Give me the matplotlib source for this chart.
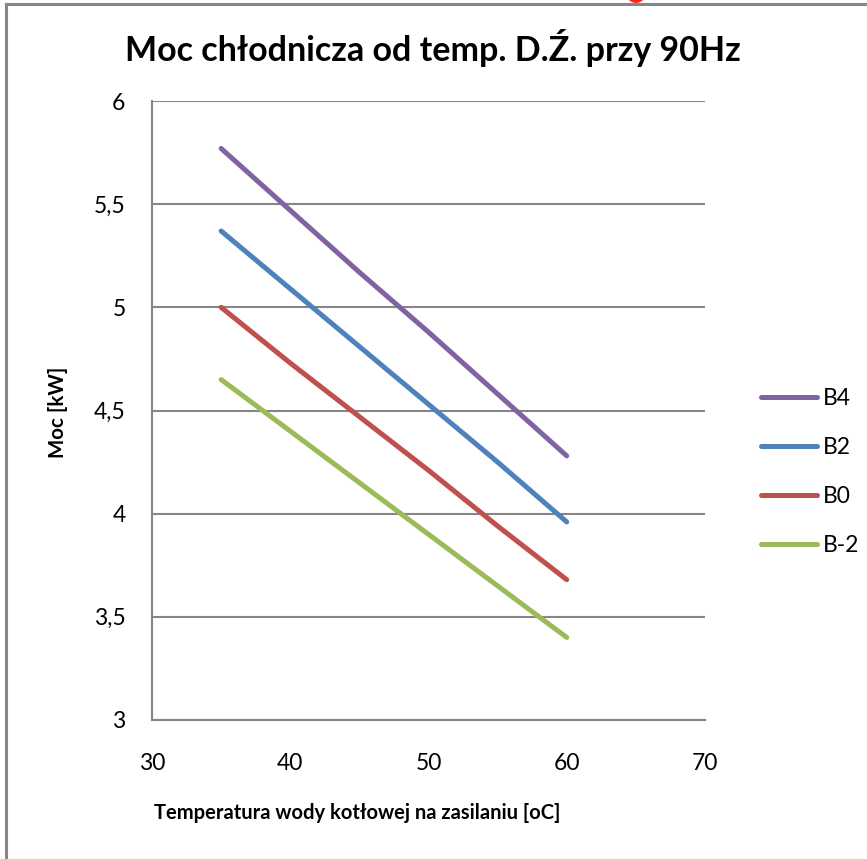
import matplotlib.pyplot as plt
from matplotlib.patches import Circle
from matplotlib.lines import Line2D
from matplotlib.ticker import FuncFormatter

# data (temperature in oC, power in kW)
temp = [35, 40, 45, 50, 55, 60]
b4 = [5.77, 5.47, 5.17, 4.88, 4.58, 4.28]
b2 = [5.37, 5.09, 4.81, 4.53, 4.25, 3.96]
b0 = [5.00, 4.73, 4.47, 4.21, 3.94, 3.68]
bm2 = [4.65, 4.40, 4.15, 3.90, 3.65, 3.40]

series = [("B4", b4, "#8064A2"), ("B2", b2, "#4F81BD"),
          ("B0", b0, "#C0504D"), ("B-2", bm2, "#9BBB59")]

x_ticks = [30, 40, 50, 60, 70]
y_ticks = [3, 3.5, 4, 4.5, 5, 5.5, 6]

plt.rcParams["font.family"] = ["Lato", "DejaVu Sans"]
grey = "#868686"

fig = plt.figure(figsize=(8.67, 8.59), dpi=100)
ax = fig.add_axes([152 / 867, 1 - 720 / 859, (705 - 152) / 867, (720 - 101) / 859])

handles = []
for name, vals, col in series:
    (ln,) = ax.plot(temp, vals, color=col, lw=3.6, solid_capstyle="round", label=name)
    handles.append(ln)

ax.set_xlim(30, 70)
ax.set_ylim(3, 6)
ax.set_xticks(x_ticks)
ax.set_yticks(y_ticks)
ax.yaxis.set_major_formatter(FuncFormatter(lambda v, p: ("%g" % v).replace(".", ",")))
ax.tick_params(length=0, labelsize=16.5)
ax.tick_params(axis="x", pad=24)
ax.tick_params(axis="y", pad=19)
ax.grid(axis="y", color=grey, lw=1.5)
ax.set_axisbelow(True)
for s in ["top", "right"]:
    ax.spines[s].set_visible(False)
for s in ["left", "bottom"]:
    ax.spines[s].set_color(grey)
    ax.spines[s].set_linewidth(1.5)

fig.text(433 / 867, 1 - 48 / 859, "Moc chłodnicza od temp. D.Ź. przy 90Hz",
         ha="center", va="center", fontsize=24.5, fontweight="bold")
fig.text(357 / 867, 1 - 813 / 859, "Temperatura wody kotłowej na zasilaniu [oC]",
         ha="center", va="center", fontsize=14.5, fontweight="bold")
fig.text(58 / 867, 1 - 412 / 859, "Moc [kW]", ha="center", va="center",
         rotation=90, fontsize=14.8, fontweight="bold")

fig.legend(handles=handles, loc="upper left", bbox_to_anchor=(752 / 867, 1 - 379 / 859),
           frameon=False, fontsize=16.5, handlelength=2.45, handletextpad=0.25,
           labelspacing=1.22, borderaxespad=0)

# chart frame (only top and left edges are visible in the crop)
fig.add_artist(Line2D([6 / 867, 1], [1 - 4 / 859] * 2, color=grey, lw=2.2))
fig.add_artist(Line2D([6 / 867] * 2, [0, 1 - 4 / 859], color=grey, lw=2.2))
fig.add_artist(Circle((636 / 867, 1 + 7 / 859), 10 / 867, color="#ff2020", lw=0))

fig.savefig("out.png", dpi=100)
